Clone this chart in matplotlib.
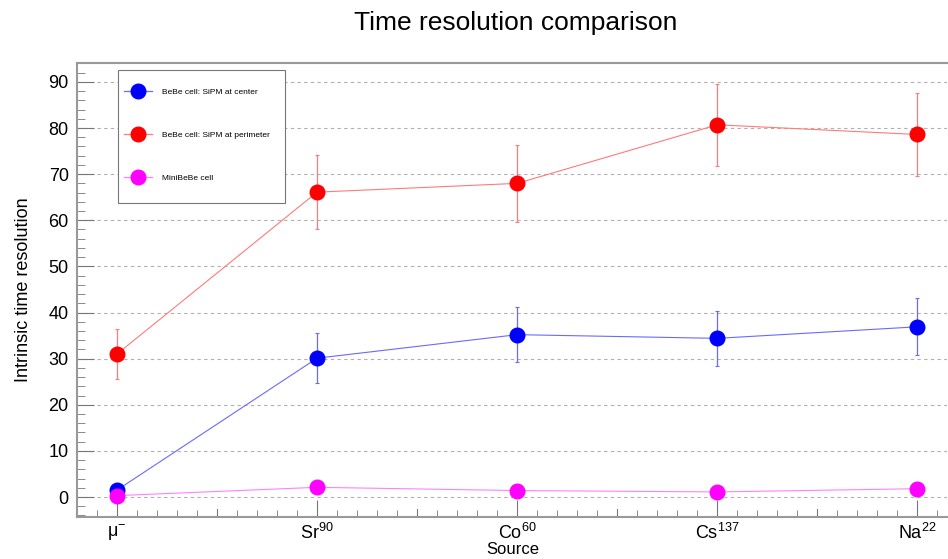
import matplotlib
matplotlib.use("Agg")
import matplotlib.pyplot as plt
from matplotlib.patches import Rectangle
from matplotlib.ticker import MultipleLocator

plt.rcParams['font.family'] = ['Liberation Sans', 'DejaVu Sans']
plt.rcParams['mathtext.fontset'] = 'custom'
plt.rcParams['mathtext.rm'] = 'Liberation Sans'
plt.rcParams['mathtext.it'] = 'Liberation Sans:italic'

sources = ['μ$^{-}$', 'Sr$^{90}$', 'Co$^{60}$', 'Cs$^{137}$', 'Na$^{22}$']
center_res = [1.5, 30.1, 35.2, 34.4, 36.9]
center_err = [0.6, 5.4, 5.9, 5.9, 6.2]
perim_res = [31.0, 66.1, 68.0, 80.7, 78.6]
perim_err = [5.5, 8.1, 8.3, 8.9, 8.9]
mini_res = [0.3, 2.1, 1.4, 1.1, 1.8]
mini_err = [0.2, 0.2, 0.2, 0.2, 0.2]

series = [
    ("BeBe cell: SiPM at center", center_res, center_err, "#0000ff", "#6a6aff"),
    ("BeBe cell: SiPM at perimeter", perim_res, perim_err, "#ff0000", "#ff7a7a"),
    ("MiniBeBe cell", mini_res, mini_err, "#ff00ff", "#ff80ff"),
]

fig = plt.figure(figsize=(9.48, 5.59), dpi=100)
ax = fig.add_axes([0.0812, 0.0751, 0.918, 0.8122])

x = list(range(len(sources)))
for label, vals, errs, col, lcol in series:
    ax.errorbar(x, vals, yerr=errs, fmt='-', color=lcol, lw=0.8,
                elinewidth=0.9, capsize=1.5, capthick=0.8, zorder=3)
    ax.plot(x, vals, 'o', color=col, ms=10.5, zorder=4)
    ax.plot([], [], '-o', color=lcol, ms=10.5, lw=0.9, label=label,
            markerfacecolor=col, markeredgecolor=col)

ax.set_xlim(-0.2, 4.15)
ax.set_ylim(-4.34, 94.1)
ax.set_xticks(x)
ax.set_xticklabels(sources, fontsize=13)
ax.xaxis.set_minor_locator(MultipleLocator(0.1))
ax.yaxis.set_major_locator(MultipleLocator(10))
ax.yaxis.set_minor_locator(MultipleLocator(2))
ax.tick_params(axis='both', which='both', direction='in', color='#777777',
               labelsize=13, top=False, right=False)
ax.tick_params(axis='x', which='major', length=12, pad=4)
ax.tick_params(axis='x', which='minor', length=5)
ax.tick_params(axis='y', which='major', length=12, pad=6)
ax.tick_params(axis='y', which='minor', length=6)
# medium ticks at the half positions
for h in [0.5, 1.5, 2.5, 3.5]:
    ax.plot([h, h], [-4.34, -2.6], color='#777777', lw=0.8, zorder=2)

ax.yaxis.grid(True, linestyle=(0, (3, 3)), color='#b0b0b0', lw=0.8)
ax.set_axisbelow(True)
for side in ['left', 'top', 'bottom']:
    ax.spines[side].set_color('#999999')
    ax.spines[side].set_linewidth(1.5)
ax.spines['right'].set_visible(False)

fig.text(0.541, 1 - 550 / 559, "Source", fontsize=12, ha='center', va='center')
ax.set_ylabel("Intrinsic time resolution", fontsize=13, labelpad=12)
fig.text(0.544, 0.958, "Time resolution comparison", fontsize=19,
         ha='center', va='center')

# legend box (ROOT-style fixed box)
box = Rectangle((118 / 948, 1 - 203 / 559), 167 / 948, 133 / 559,
                transform=fig.transFigure, facecolor='white',
                edgecolor='#777777', lw=0.8, zorder=5)
ax.add_patch(box)
leg = ax.legend(loc='upper left', bbox_to_anchor=(124 / 948, 1 - 88 / 559),
                bbox_transform=fig.transFigure, fontsize=6, frameon=False,
                handlelength=3.3, labelspacing=4.2, borderpad=0,
                handletextpad=1.2, borderaxespad=0)
leg.set_zorder(6)

fig.savefig("out.png", dpi=100)
